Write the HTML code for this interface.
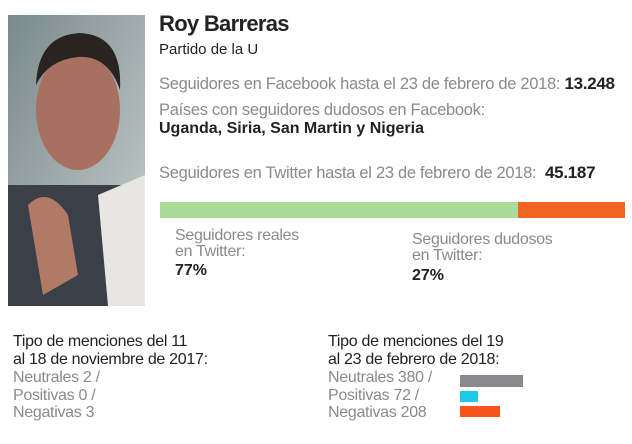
<!DOCTYPE html><html><head><style>
body{margin:0;width:632px;height:444px;background:#fff;position:relative;overflow:hidden;font-family:"Liberation Sans",sans-serif;}
.t{position:absolute;white-space:nowrap;line-height:1;}
.g{color:#8a8a8a;font-size:16px;letter-spacing:-0.3px}
.k{color:#222;}
.b{font-weight:bold}
</style></head><body>
<svg style="position:absolute;left:8px;top:15px" width="137" height="291">
<defs><linearGradient id="bg" x1="0" y1="0" x2="1" y2="1"><stop offset="0" stop-color="#7a8a8c"/><stop offset="1" stop-color="#c9cfd0"/></linearGradient></defs>
<rect width="137" height="291" fill="url(#bg)"/>
<rect x="0" y="170" width="137" height="121" fill="#3b3f48"/>
<path d="M90 180 L137 160 L137 291 L100 291 Z" fill="#e8e6e2"/>
<ellipse cx="70" cy="95" rx="42" ry="60" fill="#a87060"/>
<path d="M28 70 Q30 20 72 18 Q115 20 112 75 Q100 40 70 42 Q40 45 28 70Z" fill="#2a2420"/>
<path d="M20 190 Q40 170 60 200 L70 260 L35 280 Z" fill="#b07a66"/>
</svg>
<div class="t k b" style="left:159px;top:13px;font-size:22px;letter-spacing:-0.7px">Roy Barreras</div>
<div class="t k" style="left:159px;top:42px;font-size:15px">Partido de la U</div>
<div class="t g" style="left:159px;top:75px;font-size:16.5px">Seguidores en Facebook hasta el 23 de febrero de 2018: <span class="k b" style="font-size:17px">13.248</span></div>
<div class="t g" style="left:159px;top:102px;font-size:16.5px">Países con seguidores dudosos en Facebook:</div>
<div class="t k b" style="left:159px;top:121px;font-size:16px">Uganda, Siria, San Martin y Nigeria</div>
<div class="t g" style="left:159px;top:164px;font-size:16.5px">Seguidores en Twitter hasta el 23 de febrero de 2018: <span class="k b" style="font-size:17px">&nbsp;45.187</span></div>
<div style="position:absolute;left:160px;top:202px;width:358px;height:16px;background:#aadb98"></div>
<div style="position:absolute;left:518px;top:202px;width:107px;height:16px;background:#f26522"></div>
<div class="t g" style="left:175px;top:228px;line-height:16px">Seguidores reales<br>en Twitter:</div>
<div class="t k b" style="left:175px;top:263px;font-size:16px">77%</div>
<div class="t g" style="left:412px;top:232px;line-height:16px">Seguidores dudosos<br>en Twitter:</div>
<div class="t k b" style="left:412px;top:268px;font-size:16px">27%</div>
<div class="t k" style="left:13px;top:333px;font-size:16px;line-height:18px;letter-spacing:-0.3px">Tipo de menciones del 11<br>al 18 de noviembre de 2017:</div>
<div class="t g" style="left:13px;top:369px;line-height:17.5px">Neutrales 2 /<br>Positivas 0 /<br>Negativas 3</div>
<div class="t k" style="left:328px;top:333px;font-size:16px;line-height:18px;letter-spacing:-0.3px">Tipo de menciones del 19<br>al 23 de febrero de 2018:</div>
<div class="t g" style="left:328px;top:369px;line-height:17.5px">Neutrales 380 /<br>Positivas 72 /<br>Negativas 208</div>
<div style="position:absolute;left:460px;top:375px;width:63px;height:12px;background:#8a8a8c"></div>
<div style="position:absolute;left:460px;top:391px;width:18px;height:11px;background:#1ec8e6"></div>
<div style="position:absolute;left:460px;top:406px;width:40px;height:11px;background:#f7541e"></div>
</body></html>
